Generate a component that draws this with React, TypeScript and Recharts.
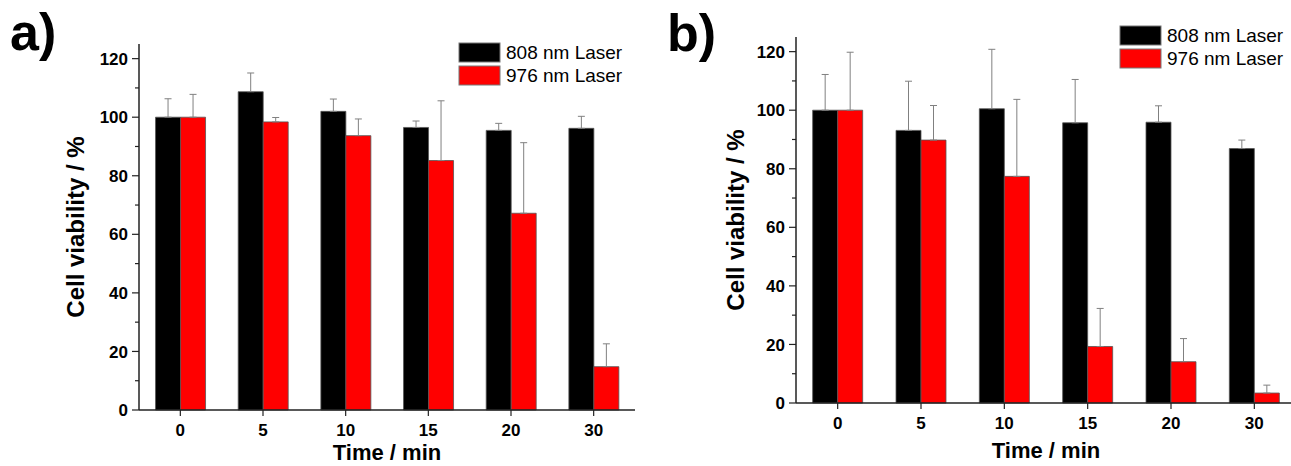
import { BarChart, Bar, XAxis, YAxis, ErrorBar, Label } from "recharts";

// time points (min)
const times = ["0", "5", "10", "15", "20", "30"];
const yTicks = [0, 10, 20, 30, 40, 50, 60, 70, 80, 90, 100, 110, 120];

// panel a
const a808 = [100, 108.7, 102, 96.5, 95.5, 96.2];
const a808Sd = [6.3, 6.4, 4.2, 2.2, 2.4, 4.1];
const a976 = [100, 98.4, 93.7, 85.2, 67.2, 14.8];
const a976Sd = [7.8, 1.5, 5.7, 20.4, 24.1, 7.8];

// panel b
const b808 = [100, 93.1, 100.5, 95.7, 95.9, 86.9];
const b808Sd = [12.2, 16.8, 20.3, 14.8, 5.6, 2.9];
const b976 = [100, 89.8, 77.4, 19.3, 14.1, 3.4];
const b976Sd = [19.8, 11.8, 26.3, 13.0, 7.9, 2.7];

const seriesNames = ["808 nm Laser", "976 nm Laser"];
const seriesColors = ["#000000", "#ff0000"];

const FONT = "'Liberation Sans', Arial, Helvetica, sans-serif";
const AXIS = "#222";

function buildRows(v1: number[], s1: number[], v2: number[], s2: number[]) {
  return times.map((t, i) => ({
    time: t,
    v808: v1[i],
    e808: [0, s1[i]],
    v976: v2[i],
    e976: [0, s2[i]],
  }));
}

function YTick(props: any) {
  const { x, y, payload } = props;
  const major = payload.value % 20 === 0;
  return (
    <g>
      <line x1={x} x2={x - (major ? 7 : 4)} y1={y} y2={y} stroke={AXIS} strokeWidth={1.2} />
      {major && (
        <text x={x - 11} y={y} dy="0.36em" textAnchor="end" fontSize={17} fontWeight="bold" fill="#000" fontFamily={FONT}>
          {payload.value}
        </text>
      )}
    </g>
  );
}

function XTick(props: any) {
  const { x, y, payload } = props;
  return (
    <g>
      <line x1={x} x2={x} y1={y} y2={y + 6} stroke={AXIS} strokeWidth={1.2} />
      <text x={x} y={y + 26} textAnchor="middle" fontSize={17} fontWeight="bold" fill="#000" fontFamily={FONT}>
        {payload.value}
      </text>
    </g>
  );
}

function Panel({
  rows,
  left,
  width,
  top,
  right,
  yAxisWidth,
  xAxisHeight,
  xLabelOffset,
}: {
  rows: any[];
  left: number;
  width: number;
  top: number;
  right: number;
  yAxisWidth: number;
  xAxisHeight: number;
  xLabelOffset: number;
}) {
  return (
    <div style={{ position: "absolute", left, top: 0 }}>
      <BarChart
        width={width}
        height={466}
        data={rows}
        margin={{ top, right, bottom: 0, left: 0 }}
        barCategoryGap="20%"
        barGap={0}
      >
        <XAxis
          dataKey="time"
          interval={0}
          height={xAxisHeight}
          tickSize={0}
          tickMargin={0}
          tickLine={false}
          axisLine={{ stroke: AXIS, strokeWidth: 1.5 }}
          tick={<XTick />}
        >
          <Label
            content={(p: any) => {
              const vb = p.viewBox || {};
              return (
                <text
                  x={vb.x + vb.width / 2}
                  y={vb.y + xLabelOffset}
                  textAnchor="middle"
                  fontSize={22}
                  fontWeight="bold"
                  fontFamily={FONT}
                  fill="#000"
                >
                  Time / min
                </text>
              );
            }}
          />
        </XAxis>
        <YAxis
          width={yAxisWidth}
          domain={[0, 125]}
          ticks={yTicks}
          interval={0}
          tickSize={0}
          tickMargin={0}
          tickLine={false}
          axisLine={{ stroke: AXIS, strokeWidth: 1.5 }}
          tick={<YTick />}
        >
          <Label
            content={(p: any) => {
              const vb = p.viewBox || {};
              const cx = vb.x + 75;
              const cy = vb.y + vb.height / 2;
              return (
                <text
                  x={cx}
                  y={cy}
                  transform={`rotate(-90, ${cx}, ${cy})`}
                  textAnchor="middle"
                  dy="0.36em"
                  fontSize={24}
                  fontWeight="bold"
                  fontFamily={FONT}
                  fill="#000"
                >
                  Cell viability / %
                </text>
              );
            }}
          />
        </YAxis>
        <Bar dataKey="v808" name={seriesNames[0]} fill={seriesColors[0]} stroke="#555" strokeWidth={0.8} isAnimationActive={false}>
          <ErrorBar dataKey="e808" width={3.5} stroke="#808080" strokeWidth={1} direction="y" isAnimationActive={false} />
        </Bar>
        <Bar dataKey="v976" name={seriesNames[1]} fill={seriesColors[1]} stroke="#555" strokeWidth={0.8} isAnimationActive={false}>
          <ErrorBar dataKey="e976" width={3.5} stroke="#808080" strokeWidth={1} direction="y" isAnimationActive={false} />
        </Bar>
      </BarChart>
    </div>
  );
}

function LegendBox({ x, y }: { x: number; y: number }) {
  return (
    <g>
      {seriesNames.map((n, i) => (
        <g key={n}>
          <rect x={x} y={y + i * 23} width={41} height={19} fill={seriesColors[i]} stroke="#777" strokeWidth={1} />
          <text x={x + 47} y={y + i * 23 + 9.5} dy="0.36em" fontSize={19} fontFamily={FONT} fill="#000">
            {n}
          </text>
        </g>
      ))}
    </g>
  );
}

export default function App() {
  const rowsA = buildRows(a808, a808Sd, a976, a976Sd);
  const rowsB = buildRows(b808, b808Sd, b976, b976Sd);
  return (
    <div
      style={{
        position: "fixed",
        left: 0,
        top: 0,
        width: 1291,
        height: 466,
        overflow: "hidden",
        background: "#fff",
      }}
    >
      <Panel rows={rowsA} left={0} width={660} top={44} right={25} yAxisWidth={139} xAxisHeight={56} xLabelOffset={50} />
      <Panel rows={rowsB} left={660} width={646} top={37} right={10} yAxisWidth={136} xAxisHeight={63} xLabelOffset={55} />
      <svg width={1291} height={466} style={{ position: "absolute", left: 0, top: 0, pointerEvents: "none" }}>
        <text x={10} y={50} fontSize={52} fontWeight="bold" fontFamily={FONT} fill="#000">
          a)
        </text>
        <text x={667} y={51} fontSize={52} fontWeight="bold" fontFamily={FONT} fill="#000">
          b)
        </text>
        <LegendBox x={459} y={43} />
        <LegendBox x={1120} y={26} />
      </svg>
    </div>
  );
}
